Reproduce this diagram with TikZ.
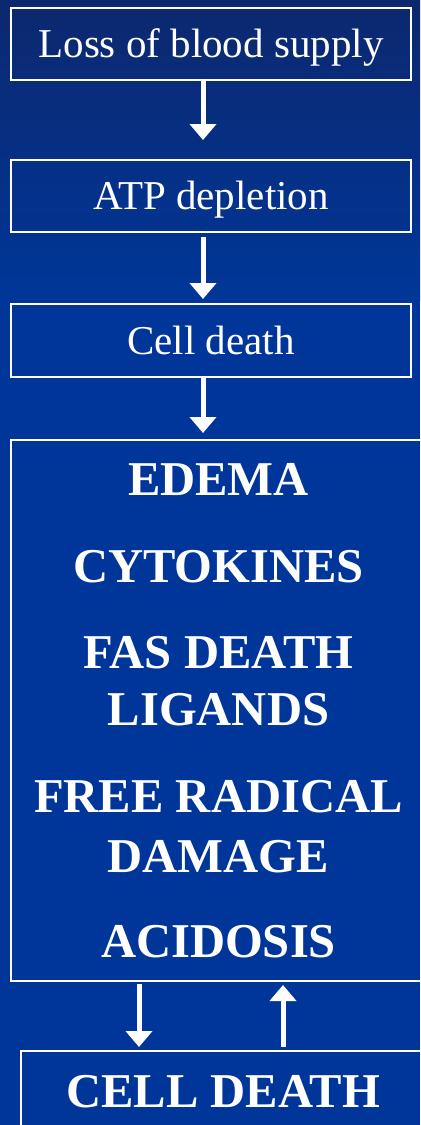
\documentclass[tikz,border=0pt]{standalone}
\usepackage{fontspec}
\setmainfont{Liberation Serif}
\usetikzlibrary{arrows.meta}

\definecolor{slidetop}{RGB}{12,40,110}
\definecolor{slideblue}{RGB}{0,54,153}

\tikzset{
  stepbox/.style={draw=white, line width=1pt, text=white, inner sep=0pt,
    font=\fontsize{20.5}{24}\selectfont, text height=13.5pt, text depth=0pt},
  bigbox/.style={stepbox, font=\fontsize{24.3}{28}\selectfont\bfseries, text height=16pt},
  effect/.style={text=white, anchor=base, inner sep=0pt,
    font=\fontsize{24.3}{28}\selectfont\bfseries},
  flow/.style={draw=white, line width=2.5pt,
    -{Triangle[width=13pt,length=8pt]}}
}

\begin{document}
\begin{tikzpicture}[x=0.5pt, y=-0.5pt]
  \useasboundingbox (0,0) rectangle (420,1125);
  \clip (0,0) rectangle (420,1125);

  \fill[slideblue] (0,0) rectangle (420,1125);
  \shade[top color=slidetop, bottom color=slideblue] (0,0) rectangle (420,300);

  % chain of boxes
  \node[stepbox, minimum width=200pt, minimum height=36pt] (loss) at (211,44) {Loss of blood supply};
  \node[stepbox, minimum width=200pt, minimum height=36pt] (atp) at (211,196) {ATP depletion};
  \node[stepbox, minimum width=200pt, minimum height=36.5pt] (death) at (211,340.5) {Cell death};
  \node[stepbox, minimum width=207.5pt, minimum height=270.5pt] (effects) at (218.5,710.5) {};
  \node[bigbox, minimum width=202pt, minimum height=40.5pt] (celldeath) at (223,1091.5) {CELL DEATH};

  % what follows
  \node[effect] (edema) at (218.5,495) {EDEMA};
  \node[effect] (cyto) at (218.5,582) {CYTOKINES};
  \node[effect] (fas) at (218.5,668) {FAS DEATH};
  \node[effect] (lig) at (218.5,725) {LIGANDS};
  \node[effect] (free) at (218.5,812) {FREE RADICAL};
  \node[effect] (damage) at (218.5,872) {DAMAGE};
  \node[effect] (acid) at (218.5,957) {ACIDOSIS};

  \coordinate (axis) at (203,0);
  \coordinate (downx) at (139,0);
  \coordinate (upx) at (283,0);

  \draw[flow, shorten >=9.5pt] (loss.south -| axis) -- (atp.north -| axis);
  \draw[flow, shorten <=2pt, shorten >=2pt] (atp.south -| axis) -- (death.north -| axis);
  \draw[flow, shorten >=3pt] (death.south -| axis) -- (effects.north -| axis);
  \draw[flow, shorten <=1pt, shorten >=1.5pt] (effects.south -| downx) -- (celldeath.north -| downx);
  \draw[flow, shorten <=1.5pt, shorten >=1.5pt] (celldeath.north -| upx) -- (effects.south -| upx);
\end{tikzpicture}
\end{document}
